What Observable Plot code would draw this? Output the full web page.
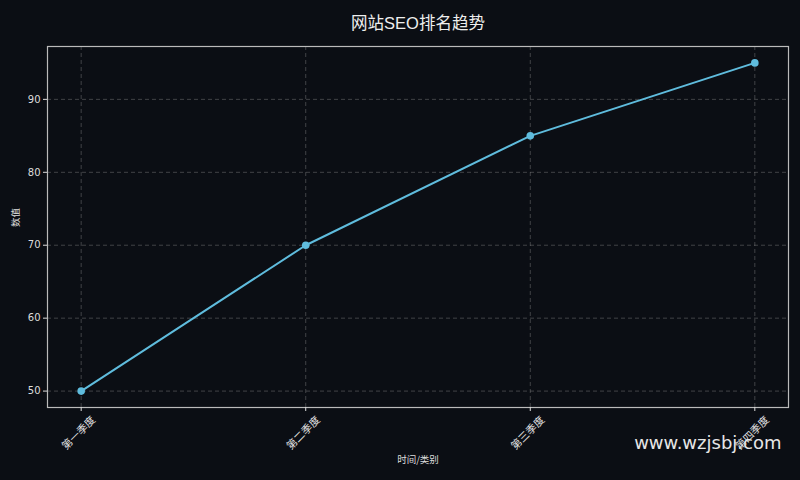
<!DOCTYPE html>
<html>
<head>
<meta charset="utf-8">
<script src="https://cdn.jsdelivr.net/npm/d3@7"></script>
<script src="https://cdn.jsdelivr.net/npm/@observablehq/plot@0.6"></script>
<style>
  html, body { margin: 0; padding: 0; background: #0b0e14; }
  #chart svg { display: block; }
</style>
</head>
<body>
<div id="chart"></div>
<script>
const categories = ["第一季度", "第二季度", "第三季度", "第四季度"];
const values = [50, 70, 85, 95];
const yTicks = [50, 60, 70, 80, 90];
const titleText = "网站SEO排名趋势";
const xLabel = "时间/类别";
const yLabel = "数值";
const watermark = "www.wzjsbj.com";

const data = categories.map((c, i) => ({cat: c, value: values[i]}));
const fontFamily = "'DejaVu Sans', 'Noto Sans CJK SC', sans-serif";

const chart = Plot.plot({
  width: 800,
  height: 480,
  marginLeft: 47,
  marginRight: 12,
  marginTop: 46,
  marginBottom: 73,
  style: {background: "#0b0e14", color: "#dddddd", fontFamily, fontSize: "10px"},
  x: {type: "point", domain: categories, padding: 0.15, round: false},
  y: {domain: [47.75, 97.25]},
  marks: [
    Plot.gridX(categories, {stroke: "#888", strokeOpacity: 0.55, strokeDasharray: "4,3", strokeWidth: 0.8}),
    Plot.gridY(yTicks, {stroke: "#888", strokeOpacity: 0.55, strokeDasharray: "4,3", strokeWidth: 0.8}),
    Plot.frame({stroke: "#bbbbbb", strokeWidth: 1.2}),
    Plot.axisY(yTicks, {tickSize: 4, tickPadding: 3, stroke: "#dddddd", fill: "#dddddd", fontSize: 10, label: null}),
    Plot.axisX(categories, {tickSize: 4, tickFormat: () => "", stroke: "#dddddd", label: null}),
    Plot.text(categories, {x: d => d, frameAnchor: "bottom", dy: 28, rotate: -45, textAnchor: "middle", fill: "#e4e4e4", fontSize: 10.5, fontFamily: "'Noto Sans CJK SC', sans-serif"}),
    Plot.line(data, {x: "cat", y: "value", stroke: "#5fbcdd", strokeWidth: 2}),
    Plot.dot(data, {x: "cat", y: "value", r: 3.8, fill: "#5fbcdd", stroke: "none"}),
    Plot.text([titleText], {frameAnchor: "top", dy: -29, fill: "#eeeeee", fontSize: 16.5, fontFamily: "'Liberation Sans', 'Noto Sans CJK SC', sans-serif"}),
    Plot.text([xLabel], {frameAnchor: "bottom", dy: 55, fill: "#dddddd", fontSize: 9.5, fontFamily: "'Noto Sans CJK SC', sans-serif"}),
    Plot.text([yLabel], {frameAnchor: "left", dx: -32, rotate: -90, fill: "#dddddd", fontSize: 9.5, fontFamily: "'Noto Sans CJK SC', sans-serif"}),
    Plot.text([watermark], {frameAnchor: "bottom-right", dx: -7, dy: 41, textAnchor: "end", fill: "#e6e6e6", fontSize: 18})
  ]
});
document.getElementById("chart").appendChild(chart);
</script>
</body>
</html>
